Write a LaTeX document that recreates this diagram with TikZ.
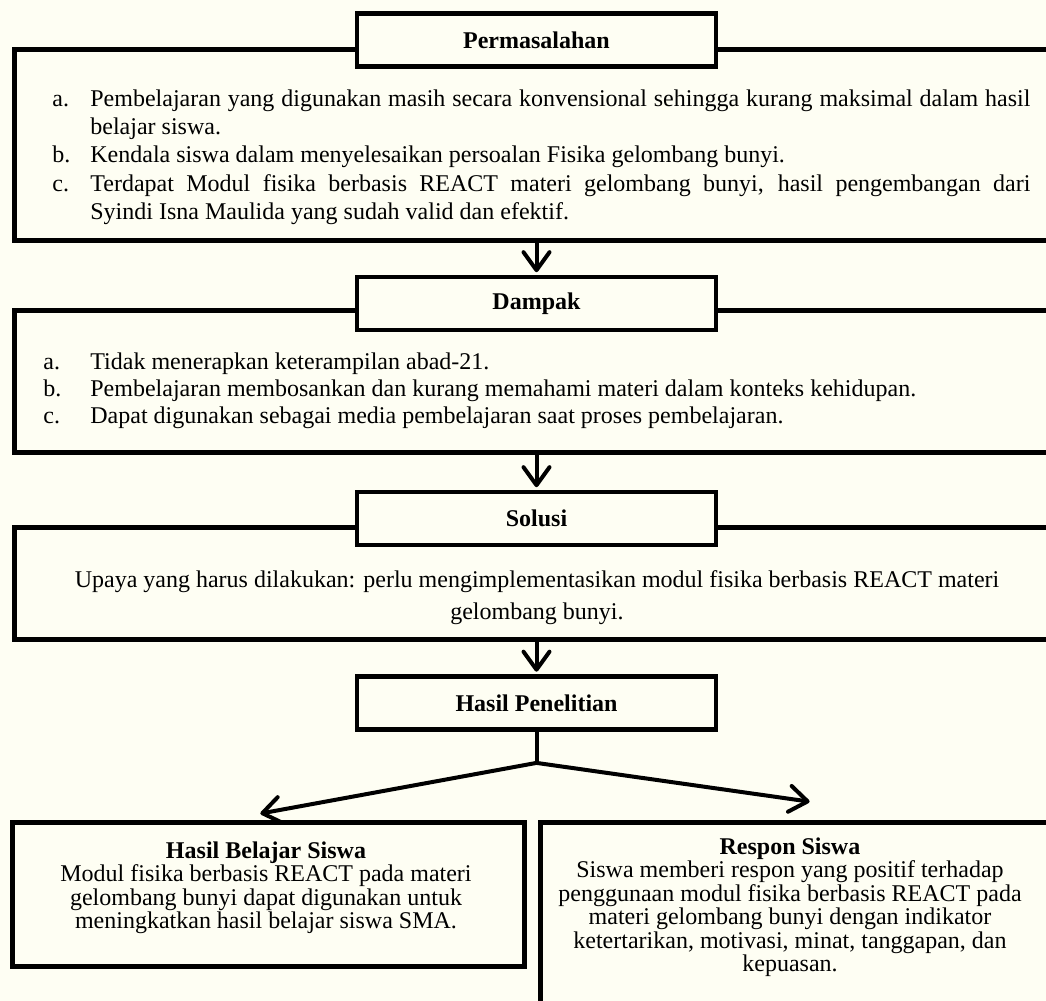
\documentclass[tikz,border=0pt]{standalone}
\usepackage{fontspec}
\setmainfont{Liberation Serif}
\usetikzlibrary{arrows.meta, positioning}
\definecolor{kertas}{RGB}{254,254,243}
\newcommand{\butir}[3]{\noindent\hangindent=#1\hangafter=1\makebox[#1][l]{#2}#3\par}
\tikzset{%
  judul/.style={draw, line width=2.4pt, fill=kertas, minimum width=179.5pt,
                minimum height=26.5pt, inner sep=0pt,
                font=\fontsize{12pt}{14pt}\selectfont\bfseries},
  kotak/.style={draw, line width=2.4pt, fill=kertas, anchor=north west, inner sep=0pt},
  isi/.style={inner sep=0pt, font=\fontsize{12pt}{14pt}\selectfont},
  panah/.style={line width=2pt, line cap=round, line join=round, shorten >=1.2pt,
                -{Straight Barb[length=9pt, width=13pt, round]}},
}

\begin{document}
\begin{tikzpicture}[x=0.5pt, y=-0.5pt]

% Paper and frame of the picture
\fill[kertas] (0,0) rectangle (1046,1001);
\useasboundingbox (0,0) rectangle (1046,1001);
\clip (0,0) rectangle (1046,1001);

% Permasalahan
\node[kotak, minimum width=530pt, minimum height=95.5pt] (masalahbox) at (12,47) {};
\node[judul] (masalah) at (536.5,40) {Permasalahan};
\node[isi, anchor=north west, text width=489pt, align=justify,
      font=\fontsize{12pt}{14.15pt}\selectfont] (masalahisi) at (52,86) {%
  \hyphenpenalty=10000
  \butir{19pt}{\strut a.}{Pembelajaran yang digunakan masih secara konvensional sehingga kurang maksimal dalam hasil belajar siswa.}
  \butir{19pt}{b.}{Kendala siswa dalam menyelesaikan persoalan Fisika gelombang bunyi.}
  \butir{19pt}{c.}{Terdapat Modul fisika berbasis REACT materi gelombang bunyi, hasil pengembangan dari \linebreak Syindi Isna Maulida yang sudah valid dan efektif.}};

% Dampak
\node[kotak, minimum width=530pt, minimum height=71pt] (dampakbox) at (12,308) {};
\node[judul] (dampak) at (536.5,303.5) {Dampak};
\node[isi, anchor=north west, align=left,
      font=\fontsize{12pt}{13.5pt}\selectfont] (dampakisi) at (43,350) {%
  \strut\makebox[23.5pt][l]{a.}Tidak menerapkan keterampilan abad-21.\\
  \makebox[23.5pt][l]{b.}Pembelajaran membosankan dan kurang memahami materi dalam konteks kehidupan.\\
  \makebox[23.5pt][l]{c.}Dapat digunakan sebagai media pembelajaran saat proses pembelajaran.};

% Solusi
\node[kotak, minimum width=530pt, minimum height=56pt] (solusibox) at (12,525) {};
\node[judul] (solusi) at (536.5,518.5) {Solusi};
\node[isi, anchor=north, align=center,
      font=\fontsize{12pt}{16pt}\selectfont] (solusiisi) at (537,565) {%
  \strut Upaya yang harus dilakukan: perlu mengimplementasikan modul fisika berbasis REACT materi\\
  gelombang bunyi.};

% Hasil Penelitian
\node[judul] (hasil) at (536.5,703) {Hasil Penelitian};

% Hasil Belajar Siswa and Respon Siswa
\node[kotak, minimum width=256pt, minimum height=72pt] (belajarbox) at (10,820) {};
\node[isi, anchor=north, align=center,
      font=\fontsize{12pt}{11.7pt}\selectfont] (belajarisi) at (266,841) {%
  \rule{0pt}{8.5pt}\textbf{Hasil Belajar Siswa}\\
  Modul fisika berbasis REACT pada materi\\
  gelombang bunyi dapat digunakan untuk\\
  meningkatkan hasil belajar siswa SMA.};
\node[kotak, minimum width=270pt, minimum height=110pt] (responbox) at (538,820) {};
\node[isi, anchor=north, align=center,
      font=\fontsize{12pt}{11.7pt}\selectfont] (responisi) at (790,837) {%
  \rule{0pt}{8.5pt}\textbf{Respon Siswa}\\
  Siswa memberi respon yang positif terhadap\\
  penggunaan modul fisika berbasis REACT pada\\
  materi gelombang bunyi dengan indikator\\
  ketertarikan, motivasi, minat, tanggapan, dan\\
  kepuasan.};

% Arrows between the stages
\draw[panah] (dampak.north |- masalahbox.south) -- (dampak.north);
\draw[panah] (solusi.north |- dampakbox.south) -- (solusi.north);
\draw[panah] (hasil.north |- solusibox.south) -- (hasil.north);

% Branch to the two results
\coordinate[below=15.5pt of hasil.south] (cabang);
\coordinate (ujungkiri) at (258,814);
\coordinate (ujungkanan) at (812,802);
\draw[line width=2pt] (hasil.south) -- (cabang);
\draw[panah] (cabang) -- (ujungkiri);
\draw[panah] (cabang) -- (ujungkanan);

\end{tikzpicture}
\end{document}
